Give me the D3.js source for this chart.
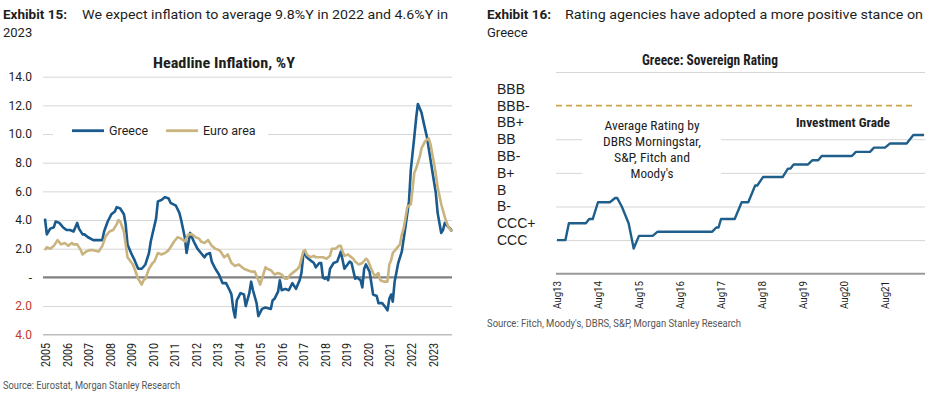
<!DOCTYPE html>
<html><head><meta charset="utf-8">
<script src="https://cdn.jsdelivr.net/npm/d3@7"></script>
<style>
body{margin:0;background:#fff;}
svg{display:block;font-family:Roboto,"Liberation Sans",sans-serif;}
</style>
</head><body>
<svg id="c" width="947" height="397"></svg>
<script>
// ---------- DATA: Exhibit 15 ----------
const greece = [
["2005-01",4.1],["2005-02",3.0],["2005-03",3.2],["2005-04",3.4],["2005-06",3.5],["2005-07",3.9],["2005-09",3.8],["2005-11",3.5],
["2006-01",3.3],["2006-03",3.3],["2006-05",3.2],["2006-07",3.8],["2006-08",3.4],["2006-10",3.0],["2006-11",3.0],
["2007-01",2.8],["2007-04",2.6],["2007-07",2.6],["2007-09",2.6],["2007-10",3.2],["2007-12",3.9],
["2008-02",4.4],["2008-04",4.6],["2008-05",4.9],["2008-07",4.8],["2008-09",4.4],["2008-10",3.7],["2008-11",2.3],
["2009-01",1.7],["2009-03",1.2],["2009-05",0.6],["2009-07",0.6],["2009-09",0.9],["2009-11",1.7],["2009-12",2.5],
["2010-03",4.1],["2010-04",5.3],["2010-06",5.4],["2010-08",5.6],["2010-10",5.5],["2010-11",5.2],
["2011-02",5.0],["2011-04",4.5],["2011-05",4.0],["2011-07",2.8],["2011-08",1.7],["2011-10",3.1],["2011-12",2.5],
["2012-02",2.0],["2012-04",1.7],["2012-06",1.4],["2012-07",1.6],["2012-09",1.7],["2012-10",1.1],["2012-12",0.6],
["2013-02",0.2],["2013-04",-0.4],["2013-06",-0.4],["2013-08",-0.9],["2013-09",-1.2],["2013-10",-2.2],["2013-11",-2.8],["2013-12",-1.6],
["2014-02",-1.1],["2014-04",-1.2],["2014-05",-2.0],["2014-07",-1.1],["2014-08",-0.3],["2014-09",-0.9],["2014-11",-1.8],["2014-12",-2.7],
["2015-02",-2.2],["2015-04",-2.1],["2015-07",-2.2],["2015-08",-1.6],["2015-09",-1.5],["2015-11",-1.0],["2015-12",-0.2],
["2016-01",-0.9],["2016-03",-0.8],["2016-05",-0.9],["2016-07",-0.4],["2016-09",-0.8],["2016-10",-0.5],["2016-11",-0.2],["2016-12",0.3],
["2017-01",1.5],["2017-02",1.7],["2017-03",1.4],["2017-05",1.2],["2017-07",1.0],["2017-08",0.7],["2017-10",1.0],["2017-11",1.0],["2017-12",0.0],
["2018-01",-0.1],["2018-02",0.0],["2018-03",-0.2],["2018-04",0.6],["2018-06",1.0],["2018-08",1.1],["2018-10",1.8],["2018-11",1.2],["2018-12",0.6],
["2019-03",1.1],["2019-04",1.0],["2019-06",-0.1],["2019-07",0.0],["2019-09",-0.2],["2019-10",-0.7],["2019-11",0.6],["2019-12",0.9],
["2020-02",0.4],["2020-04",-1.2],["2020-06",-1.3],["2020-07",-1.8],["2020-09",-1.8],["2020-11",-2.1],["2020-12",-2.3],
["2021-01",-1.5],["2021-02",-1.2],["2021-03",-1.7],["2021-04",-0.3],["2021-06",1.0],["2021-08",1.8],["2021-10",3.5],["2021-12",5.3],
["2022-01",7.5],["2022-03",9.8],["2022-04",11.1],["2022-05",12.1],["2022-07",11.5],["2022-08",10.9],["2022-10",9.8],["2022-11",9.0],
["2023-01",7.4],["2023-03",5.9],["2023-04",4.5],["2023-06",3.1],["2023-07",3.3],["2023-08",3.8],["2023-10",3.5],["2023-11",3.4],["2023-12",3.2]
];
const euroArea = [
["2005-01",1.9],["2005-02",2.1],["2005-04",2.0],["2005-06",2.2],["2005-08",2.6],["2005-10",2.3],["2005-12",2.4],
["2006-02",2.2],["2006-04",2.4],["2006-05",2.3],["2006-07",2.3],["2006-09",1.9],["2006-10",1.6],["2006-12",1.8],
["2007-02",1.9],["2007-04",1.9],["2007-07",1.8],["2007-09",2.2],["2007-11",2.9],
["2008-01",3.2],["2008-03",3.3],["2008-05",3.7],["2008-06",4.0],["2008-07",3.9],["2008-09",3.2],["2008-10",2.3],["2008-11",1.4],
["2009-02",0.9],["2009-03",0.6],["2009-05",-0.1],["2009-07",-0.5],["2009-08",-0.2],["2009-09",-0.1],["2009-11",0.6],
["2010-01",1.0],["2010-02",1.1],["2010-04",1.7],["2010-06",1.6],["2010-08",1.7],["2010-10",1.9],["2010-11",2.1],
["2011-01",2.5],["2011-03",2.8],["2011-05",2.7],["2011-07",2.5],["2011-09",3.0],["2011-11",3.0],
["2012-01",2.8],["2012-03",2.7],["2012-04",2.5],["2012-06",2.4],["2012-08",2.6],["2012-10",2.2],["2012-12",2.0],
["2013-02",1.9],["2013-03",1.8],["2013-05",1.4],["2013-07",1.6],["2013-09",1.0],["2013-11",0.8],
["2014-01",0.9],["2014-03",0.7],["2014-04",0.6],["2014-06",0.5],["2014-08",0.4],["2014-10",0.4],["2014-11",0.1],
["2015-01",-0.5],["2015-02",-0.1],["2015-04",0.7],["2015-05",0.6],["2015-07",0.5],["2015-09",0.2],["2015-11",0.3],
["2016-01",0.2],["2016-03",-0.1],["2016-04",-0.1],["2016-06",0.2],["2016-08",0.4],["2016-10",0.6],["2016-11",0.8],["2016-12",1.3],
["2017-01",1.8],["2017-02",1.9],["2017-03",1.6],["2017-05",1.4],["2017-07",1.5],["2017-08",1.4],["2017-10",1.4],["2017-12",1.4],
["2018-02",1.3],["2018-04",1.5],["2018-05",2.0],["2018-07",2.0],["2018-09",2.2],["2018-10",2.2],["2018-11",1.8],["2018-12",1.5],
["2019-02",1.6],["2019-03",1.5],["2019-05",1.3],["2019-06",1.1],["2019-08",0.9],["2019-10",1.0],["2019-12",1.3],
["2020-01",1.2],["2020-03",0.6],["2020-04",0.3],["2020-05",0.1],["2020-07",0.3],["2020-08",-0.2],["2020-10",-0.3],["2020-12",-0.3],
["2021-01",0.9],["2021-02",1.2],["2021-03",1.7],["2021-05",2.0],["2021-07",2.3],["2021-08",3.0],["2021-09",3.4],["2021-10",4.1],["2021-11",4.9],["2021-12",5.0],
["2022-01",5.1],["2022-02",6.2],["2022-03",7.3],["2022-04",7.6],["2022-06",8.4],["2022-07",9.0],["2022-09",9.5],["2022-11",9.7],["2022-12",9.3],
["2023-02",7.9],["2023-03",7.2],["2023-04",6.3],["2023-06",5.1],["2023-08",4.2],["2023-10",3.5],["2023-12",3.2]
];
const inflYTicks = [14,12,10,8,6,4,2,0,-2,-4];
const inflYLabels = ["14.0","12.0","10.0","8.0","6.0","4.0","2.0","-","2.0","4.0"];
const inflYears = ["2005","2006","2007","2008","2009","2010","2011","2012","2013","2014","2015","2016","2017","2018","2019","2020","2021","2022","2023"];
const inflSeries = ["Greece","Euro area"];

// ---------- DATA: Exhibit 16 ----------
const rating = [
["2013-08-01",0],["2013-10-15",0],["2013-11-15",1],["2014-04-15",1],["2014-05-15",1.25],["2014-06-15",1.25],
["2014-08-01",2.25],["2014-11-15",2.25],["2015-01-01",2.5],["2015-01-20",2.5],["2015-03-01",2],["2015-05-01",1],
["2015-06-15",-0.5],["2015-08-01",0.25],["2015-12-01",0.25],["2016-01-15",0.5],["2017-05-15",0.5],["2017-06-20",0.75],
["2017-07-10",0.75],["2017-08-01",1.25],["2017-12-01",1.25],["2018-02-01",2.25],["2018-04-01",2.25],["2018-06-01",3.25],
["2018-06-20",3.25],["2018-08-10",3.75],["2019-02-01",3.75],["2019-03-20",4.25],["2019-04-10",4.25],["2019-05-10",4.5],
["2019-09-15",4.5],["2019-10-25",4.75],["2019-12-15",4.75],["2020-01-15",5],["2020-10-10",5],["2020-11-15",5.25],
["2021-03-20",5.25],["2021-04-25",5.5],["2021-08-01",5.5],["2021-09-15",5.75],["2022-02-10",5.75],["2022-04-10",6.25],
["2022-07-15",6.25]
];
const ratingNotches = [0,1,2,3,4,5,6,7,8,9];
const ratingLabels = ["CCC","CCC+","B-","B","B+","BB-","BB","BB+","BBB-","BBB"];
const ratingGrid = [0,2,4,6,10];
const investmentGrade = 8;
const ratingTicks = ["2013-08-01","2014-08-01","2015-08-01","2016-08-01","2017-08-01","2018-08-01","2019-08-01","2020-08-01","2021-08-01"];

// ---------- DRAW ----------
const svg = d3.select("#c");
const pm = d3.timeParse("%Y-%m");
const pd = d3.timeParse("%Y-%m-%d");
const condensed = '"Roboto Condensed","Liberation Sans Narrow",Roboto,sans-serif';
const dark = "#1e1e1e";

function txt(x, y, s, opt) {
  const t = svg.append("text").attr("x", x).attr("y", y).text(s)
    .attr("fill", opt.fill || dark).attr("font-size", opt.size || 13)
    .attr("font-weight", opt.weight || "normal")
    .attr("font-family", opt.family || "Roboto")
    .attr("text-anchor", opt.anchor || "start");
  if (opt.len) t.attr("textLength", opt.len).attr("lengthAdjust", "spacingAndGlyphs");
  return t;
}

// Headers
txt(3, 19, "Exhibit 15:", {weight: "bold", size: 13.5});
txt(82, 19, "We expect inflation to average 9.8%Y in 2022 and 4.6%Y in", {size: 13, len: 366});
txt(3, 37, "2023", {size: 13});
txt(487, 19, "Exhibit 16:", {weight: "bold", size: 13.5});
txt(565, 19, "Rating agencies have adopted a more positive stance on", {size: 13, len: 358});
txt(487, 37, "Greece", {size: 13});

// ===== Left chart =====
const xL = d3.scaleTime().domain([pm("2005-01"), pm("2023-12")]).range([45, 452]);
const yL = d3.scaleLinear().domain([-4, 14]).range([334.7, 76.7]);
const gL = svg.append("g");

txt(224, 68, "Headline Inflation, %Y", {weight: "bold", size: 15, family: condensed, anchor: "middle", len: 142});

// gridlines via axis
const gridL = gL.append("g").attr("transform", "translate(43,0)")
  .call(d3.axisLeft(yL).tickValues(inflYTicks.filter(v => v > 0 || v === -2)).tickSize(-(452 - 43)).tickFormat(""));
gridL.select(".domain").remove();
gridL.selectAll("line").attr("stroke", "#d6d6d6").attr("stroke-width", 1);

// bottom axis line (-4) and zero line
gL.append("line").attr("x1", 43).attr("x2", 452).attr("y1", yL(-4)).attr("y2", yL(-4)).attr("stroke", "#bdbdbd").attr("stroke-width", 1.5);
gL.append("line").attr("x1", 43).attr("x2", 452).attr("y1", yL(0)).attr("y2", yL(0)).attr("stroke", "#808080").attr("stroke-width", 2.2);

// y labels
const yAxL = gL.append("g").attr("transform", "translate(32,0)")
  .call(d3.axisLeft(yL).tickValues(inflYTicks).tickSize(0).tickPadding(0).tickFormat((d, i) => inflYLabels[i]));
yAxL.select(".domain").remove();
yAxL.selectAll("text").attr("font-family", "Roboto").attr("font-size", 12)
  .attr("fill", d => d < 0 ? "#c0392b" : dark);

// x labels
const xAxL = gL.append("g").attr("transform", "translate(0,343)")
  .call(d3.axisBottom(xL).tickValues(inflYears.map(y => pm(y + "-01"))).tickSize(0).tickFormat(d3.timeFormat("%Y")));
xAxL.select(".domain").remove();
xAxL.selectAll("text").attr("transform", "rotate(-90)").attr("x", 0).attr("y", 0).attr("dy", "0.36em")
  .attr("text-anchor", "end").attr("font-family", "Roboto").attr("font-size", 13).attr("fill", dark)
  .attr("textLength", 24).attr("lengthAdjust", "spacingAndGlyphs");

// lines
const colGreece = "#1b5a8c", colEuro = "#c9b37f";
const lineL = d3.line().x(d => xL(pm(d[0]))).y(d => yL(d[1]));
gL.append("path").datum(greece).attr("d", lineL).attr("fill", "none").attr("stroke", colGreece).attr("stroke-width", 2.6).attr("stroke-linejoin", "round");
gL.append("path").datum(euroArea).attr("d", lineL).attr("fill", "none").attr("stroke", colEuro).attr("stroke-width", 2.6).attr("stroke-linejoin", "round");

// legend
gL.append("rect").attr("x", 53).attr("y", 123).attr("width", 215).attr("height", 16).attr("fill", "#fff");
const legendCols = [colGreece, colEuro], legendX = [72, 166];
inflSeries.forEach((s, i) => {
  gL.append("line").attr("x1", legendX[i]).attr("x2", legendX[i] + 32).attr("y1", 130.7).attr("y2", 130.7)
    .attr("stroke", legendCols[i]).attr("stroke-width", 2.8);
  txt(legendX[i] + 37, 135, s, {size: 12.5});
});

txt(3, 389, "Source: Eurostat, Morgan Stanley Research", {size: 10, fill: "#555", len: 177});

// ===== Right chart =====
const xR = d3.scaleTime().domain([pd("2013-08-01"), pd("2022-08-01")]).range([557, 926]);
const yR = d3.scaleLinear().domain([-2, 10]).range([273.7, 72]);
const gR = svg.append("g");

txt(710, 65, "Greece: Sovereign Rating", {weight: "bold", size: 14, family: condensed, anchor: "middle", len: 136});

const gridR = gR.append("g").attr("transform", "translate(556,0)")
  .call(d3.axisLeft(yR).tickValues(ratingGrid).tickSize(-(925 - 556)).tickFormat(""));
gridR.select(".domain").remove();
gridR.selectAll("line").attr("stroke", "#d6d6d6").attr("stroke-width", 1);

gR.append("line").attr("x1", 556).attr("x2", 915).attr("y1", yR(investmentGrade)).attr("y2", yR(investmentGrade))
  .attr("stroke", "#c9a64a").attr("stroke-width", 1.6).attr("stroke-dasharray", "6,4");

gR.append("line").attr("x1", 556).attr("x2", 925).attr("y1", yR(-2)).attr("y2", yR(-2)).attr("stroke", "#9a9a9a").attr("stroke-width", 2);

// y labels (left aligned)
const yAxR = gR.append("g").attr("transform", "translate(497,0)")
  .call(d3.axisRight(yR).tickValues(ratingNotches).tickSize(0).tickPadding(0).tickFormat((d, i) => ratingLabels[i]));
yAxR.select(".domain").remove();
yAxR.selectAll("text").attr("font-family", '"Liberation Sans",Arial,sans-serif').attr("font-size", 14).attr("fill", dark);

// x labels
const xAxR = gR.append("g").attr("transform", "translate(0,281)")
  .call(d3.axisBottom(xR).tickValues(ratingTicks.map(pd)).tickSize(0).tickFormat(d3.timeFormat("Aug%y")));
xAxR.select(".domain").remove();
xAxR.selectAll("text").attr("transform", "rotate(-90)").attr("x", 0).attr("y", 0).attr("dy", "0.36em")
  .attr("text-anchor", "end").attr("font-family", "Roboto").attr("font-size", 10.5).attr("fill", dark)
  .attr("textLength", 28).attr("lengthAdjust", "spacingAndGlyphs");

// annotation box
gR.append("rect").attr("x", 582).attr("y", 112).attr("width", 139).attr("height", 80).attr("fill", "#fff");
const annLines = ["Average Rating by", "DBRS Morningstar,", "S&P, Fitch and", "Moody's"];
const annLen = [95, 98, 76, 43];
annLines.forEach((s, i) => txt(652, 129.5 + i * 16, s, {size: 13, family: condensed, anchor: "middle", len: annLen[i]}));

txt(843, 127, "Investment Grade", {weight: "bold", size: 13, family: condensed, anchor: "middle", len: 94});

const lineR = d3.line().x(d => xR(pd(d[0]))).y(d => yR(d[1]));
gR.append("path").datum(rating).attr("d", lineR).attr("fill", "none").attr("stroke", "#1f5f8b").attr("stroke-width", 2.4).attr("stroke-linejoin", "round");

txt(487, 327, "Source: Fitch, Moody's, DBRS, S&P, Morgan Stanley Research", {size: 10, fill: "#555", len: 254});
</script>
</body></html>
